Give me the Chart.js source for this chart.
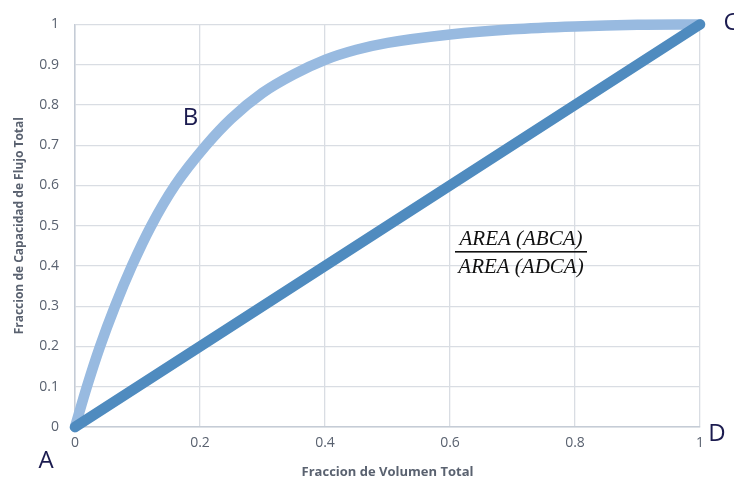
<!DOCTYPE html>
<html>
<head>
<meta charset="utf-8">
<script src="https://cdn.jsdelivr.net/npm/chart.js@4.4.1/dist/chart.umd.min.js"></script>
<style>
  html, body { margin: 0; padding: 0; background: #ffffff; }
  #wrap { width: 734px; height: 480px; position: relative; }
</style>
</head>
<body>
<div id="wrap"><canvas id="c" width="734" height="480"></canvas></div>
<script>
// Curve B (fraction of total flow capacity vs fraction of total volume)
const curveX = [0, 0.019, 0.04, 0.064, 0.091, 0.122, 0.16, 0.21, 0.25, 0.3, 0.35, 0.4, 0.45, 0.5, 0.6, 0.7, 0.8, 0.9, 1];
const curveY = [0, 0.1, 0.2, 0.3, 0.4, 0.5, 0.6, 0.7, 0.766, 0.83, 0.876, 0.912, 0.937, 0.954, 0.975, 0.988, 0.995, 0.999, 1];
// Diagonal A-C
const diagX = [0, 1];
const diagY = [0, 1];
const xTicks = [0, 0.2, 0.4, 0.6, 0.8, 1];
const yTicks = [0, 0.1, 0.2, 0.3, 0.4, 0.5, 0.6, 0.7, 0.8, 0.9, 1];
const xTitle = 'Fraccion de Volumen Total';
const yTitle = 'Fraccion de Capacidad de Flujo Total';
const pointLabels = ['A', 'B', 'C', 'D'];
const fracNum = 'AREA (ABCA)';
const fracDen = 'AREA (ADCA)';

const curveData = curveX.map((x, i) => ({ x: x, y: curveY[i] }));
const diagData = diagX.map((x, i) => ({ x: x, y: diagY[i] }));

const annot = {
  id: 'annot',
  afterDatasetsDraw(chart) {
    const ctx = chart.ctx;
    const xs = chart.scales.x, ys = chart.scales.y;
    const a = chart.chartArea;
    ctx.save();
    ctx.fillStyle = '#1b1b4f';
    ctx.font = '24px "Open Sans", sans-serif';
    ctx.textAlign = 'center';
    ctx.textBaseline = 'middle';
    ctx.fillText(pointLabels[0], a.left - 29, a.bottom + 34);
    ctx.fillText(pointLabels[1], xs.getPixelForValue(0.185), ys.getPixelForValue(0.77) + 1);
    ctx.fillText(pointLabels[2], a.right + 31, a.top - 1);
    ctx.fillText(pointLabels[3], a.right + 17, a.bottom + 7);
    // fraction
    ctx.fillStyle = '#111111';
    ctx.font = 'italic 21px "Liberation Serif", serif';
    const cx = 521;
    ctx.fillText(fracNum, cx, 239);
    ctx.fillText(fracDen, cx, 267);
    ctx.fillRect(455, 251, 132, 1.6);
    ctx.restore();
  }
};

new Chart(document.getElementById('c'), {
  type: 'line',
  data: {
    datasets: [
      {
        data: curveData,
        borderColor: '#98bae0',
        borderWidth: 10.5,
        borderCapStyle: 'round',
        borderJoinStyle: 'round',
        cubicInterpolationMode: 'monotone',
        pointRadius: 0,
        fill: false,
        clip: false,
        order: 2
      },
      {
        data: diagData,
        borderColor: '#4f8bbf',
        borderWidth: 10.5,
        borderCapStyle: 'round',
        pointRadius: 0,
        fill: false,
        clip: false,
        order: 1
      }
    ]
  },
  options: {
    responsive: false,
    animation: false,
    devicePixelRatio: 1,
    layout: { padding: { top: 24, right: 34, left: 0, bottom: 0 } },
    plugins: { legend: { display: false }, tooltip: { enabled: false } },
    scales: {
      x: {
        type: 'linear',
        min: 0, max: 1,
        afterBuildTicks(s) { s.ticks = xTicks.map(v => ({ value: v })); },
        afterFit(s) { s.height = 53; },
        ticks: {
          color: '#5a6270',
          font: { family: '"Open Sans", sans-serif', size: 14 },
          padding: 8,
          callback: v => String(v)
        },
        grid: { color: '#d9dde3', lineWidth: 1.3, drawTicks: false },
        border: { color: '#c5ccd6', width: 1.5 },
        title: {
          display: true, text: xTitle, color: '#5a6270',
          font: { family: '"Open Sans", sans-serif', size: 13, weight: 'bold' },
          padding: { top: 4, bottom: 0 }
        }
      },
      y: {
        type: 'linear',
        min: 0, max: 1,
        afterBuildTicks(s) { s.ticks = yTicks.map(v => ({ value: v })); },
        afterFit(s) { s.width = 75; },
        ticks: {
          color: '#5a6270',
          font: { family: '"Open Sans", sans-serif', size: 14 },
          padding: 16,
          callback: v => String(v)
        },
        grid: { color: '#d9dde3', lineWidth: 1.3, drawTicks: false },
        border: { color: '#c5ccd6', width: 1.5 },
        title: {
          display: true, text: yTitle, color: '#5a6270',
          font: { family: '"Open Sans", sans-serif', size: 12, weight: 'bold' },
          padding: { top: 12, bottom: 0 }
        }
      }
    }
  },
  plugins: [annot]
});
</script>
</body>
</html>
